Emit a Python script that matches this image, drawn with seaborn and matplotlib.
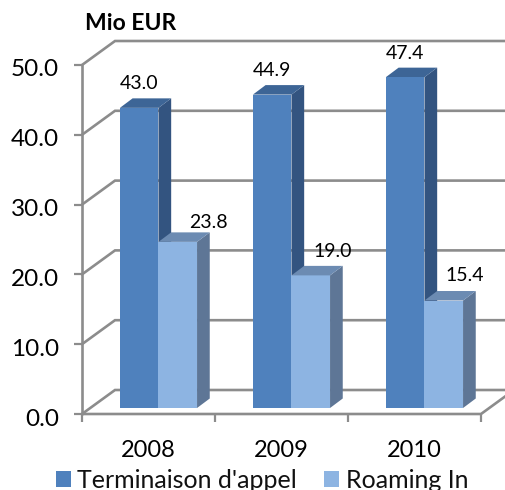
import numpy as np
import pandas as pd
import matplotlib
matplotlib.use("Agg")
import matplotlib.pyplot as plt
from matplotlib.patches import Polygon
from matplotlib.transforms import ScaledTranslation
import seaborn as sns

# valori
years = ["2008", "2009", "2010"]
terminaison = [43.0, 44.9, 47.4]
roaming = [23.8, 19.0, 15.4]
series_names = ["Terminaison d'appel", "Roaming In"]
y_ticks = [0, 10, 20, 30, 40, 50]

front_colors = ["#4F81BD", "#8DB4E2"]
side_colors = ["#335480", "#5E7696"]
top_colors = ["#3D6596", "#6C8BB2"]
grid_color = "#8C8C8C"

W, H = 505, 490
sns.set_theme(style="white")
plt.rcParams["font.family"] = ["Lato", "DejaVu Sans"]

df = pd.DataFrame({
    "year": years * 2,
    "value": terminaison + roaming,
    "serie": [series_names[0]] * 3 + [series_names[1]] * 3,
})

fig = plt.figure(figsize=(W / 100, H / 100), dpi=100)
# rettangolo del piano frontale, in pixel: x 82-481, y 65-414
ax = fig.add_axes([82 / W, 1 - 414 / H, 399 / W, 349 / H])
ax.patch.set_alpha(0)

px_x = 3 / 399      # unita categoria per pixel
px_y = 50 / 349     # unita valore per pixel
base = 6 * px_y     # le barre stanno rialzate sul pavimento 3D

sns.barplot(data=df, x="year", y="value", hue="serie", palette=front_colors,
            width=0.58, gap=0, saturation=1, linewidth=0, zorder=3, ax=ax)

xmin, xmax = -0.575, 2.425
ax.set_xlim(xmin, xmax)
ax.set_ylim(0, 50)

# pareti e griglia in finta prospettiva
dx, dy = 33 * px_x, 24 * px_y
for v in y_ticks:
    ax.plot([xmin, xmin + dx, xmax + dx + 0.2], [v, v + dy, v + dy], color=grid_color,
            lw=1.9, clip_on=False, zorder=1, solid_joinstyle="miter")
ax.plot([xmin, xmax, xmax + dx], [0, 0, dy], color=grid_color, lw=1.9, clip_on=False, zorder=1)
ax.plot([xmin, xmin], [0, 50], color=grid_color, lw=1.9, clip_on=False, zorder=1)

# fianchi e tetti delle barre
bars = [p for p in ax.patches if p.get_height() > 0]
ddx, ddy = 12.7 * px_x, 9.5 * px_y
label_shift = [(0, 24), (0, 24), (0, 24), (31, 19), (22, 24), (21, 25)]
values = terminaison + roaming
for i, p in enumerate(bars):
    c = 0 if i < 3 else 1
    p.set_y(base)
    x0, x1 = p.get_x(), p.get_x() + p.get_width()
    y0, y1 = p.get_y(), p.get_y() + p.get_height()
    ax.add_patch(Polygon([(x1, y0), (x1 + ddx, y0 + ddy), (x1 + ddx, y1 + ddy), (x1, y1)],
                         color=side_colors[c], lw=0, zorder=2 + c))
    ax.add_patch(Polygon([(x0, y1), (x0 + ddx, y1 + ddy), (x1 + ddx, y1 + ddy), (x1, y1)],
                         color=top_colors[c], lw=0, zorder=2 + c))
    ax.annotate(f"{values[i]:.1f}", ((x0 + x1) / 2, y1), xytext=label_shift[i],
                textcoords="offset pixels", ha="center", va="center",
                fontsize=14, color="black", zorder=6)

for s in ax.spines.values():
    s.set_visible(False)

ax.set_xticks([xmin, xmin + 1, xmin + 2, xmax])
ax.set_xticklabels([])
ax.set_xticks(np.arange(3) - 0.075, labels=years, minor=True)
ax.tick_params(axis="x", which="major", length=6, width=1.6, color=grid_color, bottom=True)
ax.tick_params(axis="x", which="minor", length=0, labelsize=17, pad=19, labelcolor="black")
ax.set_yticks(y_ticks, labels=[f"{v:.1f}" for v in y_ticks])
ax.tick_params(axis="y", length=6, width=1.6, color=grid_color, left=True, labelsize=17.5,
               pad=10.5, labelcolor="black")
# etichette y un po' piu in basso, come nell'originale
for lab in ax.get_yticklabels():
    lab.set_transform(lab.get_transform() + ScaledTranslation(0, -3 / 100, fig.dpi_scale_trans))
ax.set_xlabel("")
ax.set_ylabel("")

handles, labels = ax.get_legend_handles_labels()
ax.get_legend().remove()
fig.legend(handles, labels, ncol=2, loc="center", bbox_to_anchor=(262 / W, 1 - 480 / H),
           frameon=False, fontsize=18, handlelength=0.6, handleheight=0.6,
           handletextpad=0.25, columnspacing=1.1, borderpad=0, labelcolor="#111111")

fig.text(85 / W, 1 - 24 / H, "Mio EUR", fontsize=16.5, fontweight="bold", color="black",
         ha="left", va="center")

fig.savefig("out.png", dpi=100)
